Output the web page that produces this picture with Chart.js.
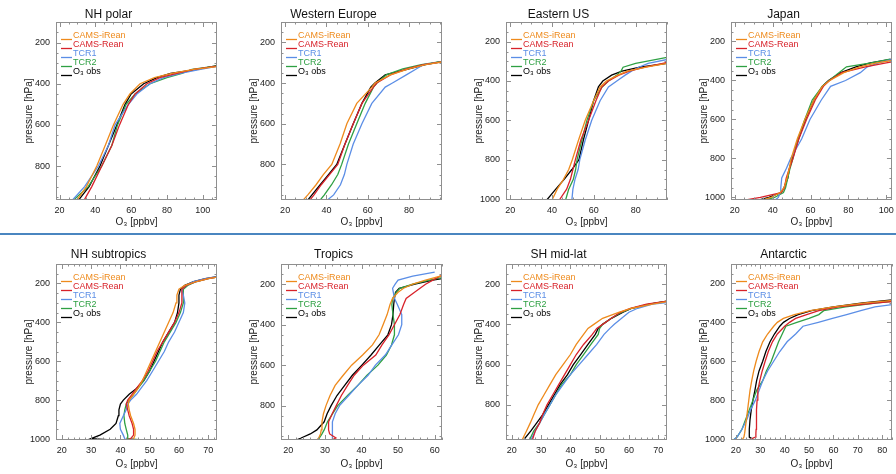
<!DOCTYPE html>
<html>
<head>
<meta charset="utf-8">
<script src="https://cdn.jsdelivr.net/npm/chart.js@4.4.0/dist/chart.umd.min.js"></script>
<style>
  body { margin: 0; background: #fff; width: 896px; height: 474px; overflow: hidden; position: relative; }
  canvas { position: absolute; }
  #sep { position: absolute; left: 0; top: 233px; width: 896px; height: 2px; background: #4a86c0; }
</style>
</head>
<body>
<div id="sep"></div>
<script>
const seriesNames = ['CAMS-iRean', 'CAMS-Rean', 'TCR1', 'TCR2', 'O\u2083 obs'];

// NH polar
const nhPolarP     = [1000, 900, 800, 700, 600, 500, 450, 400, 370, 350, 330, 300];
const nhPolarIRean = [27, 35, 40.8, 45.5, 50.1, 55.5, 59.3, 65, 73, 82.7, 95, 125];
const nhPolarRean  = [31.5, 38, 43.6, 49.2, 53.5, 58.5, 62.2, 68.8, 76, 85.6, 95, 120];
const nhPolarTcr1  = [23.5, 34, 41.7, 47.3, 51, 58.5, 63.2, 70.6, 78, 87.5, 98.7, 118];
const nhPolarTcr2  = [23.5, 36, 43.6, 49.2, 52.4, 57.2, 62.2, 70.6, 80, 88.4, 94, 120];
const nhPolarObs   = [27.5, 36.5, 42.6, 47.3, 52, 56.6, 60, 67, 74.4, 82, 97, 115];

// Western Europe
const wEuropeP     = [1000, 950, 900, 850, 800, 700, 600, 500, 420, 400, 360, 330, 310, 290];
const wEuropeIRean = [26.5, 31, 35, 38.5, 42.6, 46.6, 49.9, 54.7, 62, 63.6, 71, 79.8, 88, 100];
const wEuropeRean  = [30, 34, 37.5, 41.5, 45.5, 49, 53, 57.2, 62.8, 64.4, 71, 79, 87, 100];
const wEuropeTcr1  = [37.5, 43.5, 46.8, 48.7, 49.9, 53, 57.2, 62, 68.5, 72, 78.7, 83.7, 87, 100];
const wEuropeTcr2  = [35, 39, 42.5, 45.5, 47.4, 50.7, 54.7, 58.8, 62.8, 64.5, 69, 77, 86, 98];
const wEuropeObs   = [29, 33, 37, 41, 45, 49, 53, 57.2, 61.5, 63.5, 68.5, 80, 88, 98];

// Eastern US
const eUsP     = [1005, 950, 900, 850, 800, 700, 600, 500, 430, 400, 370, 350, 330, 310, 280];
const eUsIRean = [40, 42.5, 45.5, 48, 49.7, 52.7, 55.9, 59.9, 63, 66, 71.5, 76, 85, 95, 110];
const eUsRean  = [43.5, 47, 48.8, 50, 51.2, 53.8, 57.5, 61, 63.8, 67, 72, 77, 84.5, 93, 108];
const eUsTcr1  = [49.5, 50, 51, 52.5, 53.3, 55.9, 59, 63, 67, 71, 75, 78, 81.5, 86, 100];
const eUsTcr2  = [46.5, 48, 50.2, 51.3, 52, 54.3, 56.7, 59.9, 64, 67, 71, 73, 74, 80, 95];
const eUsObs   = [37.5, 41.8, 45.8, 49.5, 52.9, 55, 57.5, 59.9, 62.2, 64.3, 68.5, 73.5, 82, 95, 110];

// Japan
const japanP     = [1012, 1000, 975, 950, 900, 850, 800, 700, 600, 500, 430, 400, 360, 330, 310, 290];
const japanIRean = [35, 39, 44, 46, 47.6, 48.8, 49.8, 53, 57, 61.8, 66.2, 70.2, 77.6, 86, 95, 108];
const japanRean  = [26, 33.5, 44.5, 46.2, 47.2, 48.9, 50.7, 53.8, 57.9, 62.5, 66.8, 70, 76.5, 89, 100, 112];
const japanTcr1  = [41.5, 43, 44, 44.3, 44.8, 47.3, 49.5, 55.3, 59.7, 65.7, 70.6, 78.5, 86.3, 90, 96, 104];
const japanTcr2  = [36.4, 41, 45.7, 46.8, 48, 49.2, 50.7, 53.4, 57, 60.9, 66.2, 69.8, 75, 79, 92, 102];
const japanObs   = [32.9, 38, 44.5, 46, 48, 48.9, 50.4, 53.7, 57.3, 61.8, 66.2, 69.5, 76, 84, 91.6, 103];

// NH subtropics
const nhSubP     = [1008, 998, 980, 950, 920, 880, 850, 820, 800, 770, 740, 700, 650, 600, 550, 500, 450, 400, 350, 300, 260, 230, 210, 190, 175, 160, 150];
const nhSubIRean = [44.5, 44.5, 45, 45, 44.5, 43.5, 43, 42.7, 43, 44.5, 46, 47.5, 49, 50.5, 52, 53.5, 55, 56.5, 58, 59, 59.3, 60, 62, 66, 70, 76, 82];
const nhSubRean  = [41.5, 43.5, 44.5, 44.5, 44, 43, 42.5, 42, 42.5, 44, 45.5, 47.5, 49.5, 51, 52.5, 54.5, 56.5, 58.5, 60, 61, 61, 61, 62.5, 66, 70, 76, 82];
const nhSubTcr1  = [42, 41.5, 41, 40, 39.8, 41, 42, 42.5, 43.5, 45.5, 47, 49, 51, 53, 55, 56.5, 58.5, 60, 61.5, 62, 61.5, 61, 62.5, 65, 69, 75, 81];
const nhSubTcr2  = [50, 42.5, 42.5, 42, 41.5, 41.2, 41.5, 42, 43, 44.5, 46, 48, 50, 52, 53.5, 55, 57, 59, 60.5, 61.5, 61.5, 61.5, 63, 66, 70, 76, 82];
const nhSubObs   = [41, 30, 33, 36.5, 38.5, 39.3, 39.5, 40, 41, 43, 45.5, 48, 50, 51.5, 53, 54.5, 56.5, 58.5, 59.5, 60, 60, 60.5, 62, 65, 69, 75, 80];

// Tropics
const tropicsP     = [975, 960, 940, 920, 880, 840, 800, 750, 700, 650, 600, 550, 500, 450, 400, 350, 300, 270, 240, 220, 200, 180, 160, 140];
const tropicsIRean = [27.5, 28.3, 28.8, 29, 29.2, 29.6, 30.3, 31.4, 32.8, 35, 37.3, 40.3, 43, 44.8, 45.9, 47, 47.8, 48.5, 50, 51.5, 54, 57.5, 61.5, 66];
const tropicsRean  = [31.3, 33, 31.3, 31, 31, 32, 33.1, 34.5, 36.2, 38, 40.5, 43.9, 45.6, 47.5, 49, 50.5, 51.5, 52.2, 54.5, 56, 57.5, 59.5, 61.5, 65];
const tropicsTcr1  = [32, 32, 32, 32, 32.2, 32.8, 34, 36.5, 39, 41.8, 43.8, 46.5, 48.3, 50.1, 51, 51, 49.8, 49, 48.7, 48.5, 49.2, 50, 54, 60];
const tropicsTcr2  = [28, 28.5, 29.2, 29.8, 30.7, 32.1, 33.5, 36.2, 39, 41.5, 44.5, 46.8, 48.2, 49, 49, 48.6, 48.3, 48.5, 49.5, 50.5, 54, 58.5, 64, 70];
const tropicsObs   = [21.5, 23.5, 26, 27.8, 29.8, 30.6, 31.7, 33.3, 35.4, 37.5, 40.1, 42.6, 44.9, 47.2, 48.2, 48.6, 48.8, 49, 49.3, 50.3, 54.6, 59.5, 66, 72];

// SH mid-lat
const shMidP     = [975, 930, 890, 850, 800, 750, 700, 650, 600, 550, 500, 450, 420, 400, 370, 340, 320, 300, 280];
const shMidIRean = [23.5, 25, 26.3, 27.5, 29, 31, 33, 35, 37.5, 40, 42, 44.5, 46, 48, 51, 56.5, 61, 68, 76];
const shMidRean  = [27, 28, 29.5, 30.5, 32, 34, 36, 38, 40, 42, 44.5, 47.5, 49, 51, 54, 57, 60.5, 66, 75];
const shMidTcr1  = [26.5, 28, 29.5, 31, 33, 35, 37.5, 40, 43, 46, 49, 51.5, 53.5, 55, 57.5, 60, 63, 68, 80];
const shMidTcr2  = [26, 27.5, 29.5, 31, 33, 35, 37, 40, 42, 44.5, 47, 49.5, 50, 51, 54, 57.5, 61, 67, 75];
const shMidObs   = [24, 26.5, 28.5, 30.5, 32.5, 34.5, 36.5, 39, 41, 43.5, 46, 48.5, 49.5, 51, 54, 58, 61, 67, 75];

// Antarctic
const antP     = [1005, 990, 970, 950, 900, 850, 800, 750, 700, 650, 600, 550, 500, 460, 420, 400, 380, 360, 340, 320, 300, 280];
const antIRean = [22.5, 23.3, 23.6, 23.8, 24.3, 24.8, 25.3, 25.8, 26.5, 27.3, 28.3, 29.5, 31, 33, 35.5, 37, 39.5, 44, 50.5, 60, 73, 90];
const antRean  = [25, 28, 28.2, 28.3, 28.4, 28.5, 28.7, 29, 29.8, 30.8, 32, 33.3, 35, 37, 40, 42, 44.5, 49, 54, 62, 78, 95];
const antTcr1  = [19, 20.5, 21.5, 22.5, 24.5, 26, 28, 29.5, 31, 33, 35.5, 38, 41, 44.5, 47.5, 53.8, 59.6, 65.4, 71.2, 77, 90, 100];
const antTcr2  = [19, 20.5, 21.5, 22.5, 24, 25.5, 27, 28.5, 31, 32.5, 34.5, 36, 37.5, 39, 40.5, 45, 50, 54, 56, 65, 78, 92];
const antObs   = [27.5, 25.5, 25.5, 25.5, 25.8, 26.3, 27, 27.8, 28.5, 29.5, 31, 32.3, 34, 35.8, 38, 39.5, 42, 45.5, 51, 60, 72, 88];

// tick labels
const yTicks800  = [200, 400, 600, 800];
const yTicks1000 = [200, 400, 600, 800, 1000];
const xTicks20to100 = [20, 40, 60, 80, 100];
const xTicks20to80  = [20, 40, 60, 80];
const xTicks10to70  = [20, 30, 40, 50, 60, 70];
const xTicks10to60  = [20, 30, 40, 50, 60];
const xTicks10to80  = [20, 30, 40, 50, 60, 70, 80];

const colors = ['#ee8a1c', '#d8222a', '#5b8ee6', '#2ea043', '#000000'];
const font = 'Liberation Sans, Arial, Helvetica, sans-serif';

const panels = [
  { title: 'NH polar', p: nhPolarP, o3: [nhPolarIRean, nhPolarRean, nhPolarTcr1, nhPolarTcr2, nhPolarObs], x: [18, 108], y: [100, 965], xt: xTicks20to100, yt: yTicks800, minor: 5 },
  { title: 'Western Europe', p: wEuropeP, o3: [wEuropeIRean, wEuropeRean, wEuropeTcr1, wEuropeTcr2, wEuropeObs], x: [18, 96], y: [100, 975], xt: xTicks20to80, yt: yTicks800, minor: 5 },
  { title: 'Eastern US', p: eUsP, o3: [eUsIRean, eUsRean, eUsTcr1, eUsTcr2, eUsObs], x: [18, 95], y: [100, 1005], xt: xTicks20to80, yt: yTicks1000, minor: 5 },
  { title: 'Japan', p: japanP, o3: [japanIRean, japanRean, japanTcr1, japanTcr2, japanObs], x: [18, 103], y: [100, 1013], xt: xTicks20to100, yt: yTicks1000, minor: 5 },
  { title: 'NH subtropics', p: nhSubP, o3: [nhSubIRean, nhSubRean, nhSubTcr1, nhSubTcr2, nhSubObs], x: [18, 73], y: [100, 1005], xt: xTicks10to70, yt: yTicks1000, minor: 2 },
  { title: 'Tropics', p: tropicsP, o3: [tropicsIRean, tropicsRean, tropicsTcr1, tropicsTcr2, tropicsObs], x: [18, 62], y: [100, 970], xt: xTicks10to60, yt: yTicks800, minor: 2 },
  { title: 'SH mid-lat', p: shMidP, o3: [shMidIRean, shMidRean, shMidTcr1, shMidTcr2, shMidObs], x: [18, 73], y: [100, 975], xt: xTicks10to70, yt: yTicks800, minor: 2 },
  { title: 'Antarctic', p: antP, o3: [antIRean, antRean, antTcr1, antTcr2, antObs], x: [18, 84], y: [100, 1005], xt: xTicks10to80, yt: yTicks1000, minor: 2 },
];

// IDL-style box with inward ticks on all four sides, plus the coloured legend
const idlFrame = {
  id: 'idlFrame',
  afterDraw(chart, args, opts) {
    const { ctx, chartArea: a, scales: { x, y } } = chart;
    ctx.save();
    ctx.strokeStyle = '#8f8f8f';
    ctx.lineWidth = 1;
    ctx.strokeRect(Math.round(a.left) + 0.5, Math.round(a.top) + 0.5, Math.round(a.width) - 1, Math.round(a.height) - 1);
    ctx.beginPath();
    const xs = opts.minor;
    for (let i = Math.ceil(x.min / xs); i * xs <= x.max; i++) {
      const v = i * xs;
      const px = Math.round(x.getPixelForValue(v)) + 0.5;
      const len = opts.xt.includes(v) ? 5 : 2.5;
      ctx.moveTo(px, a.bottom); ctx.lineTo(px, a.bottom - len);
      ctx.moveTo(px, a.top); ctx.lineTo(px, a.top + len);
    }
    for (let i = Math.ceil(y.min / 50); i * 50 <= y.max; i++) {
      const v = i * 50;
      const py = Math.round(y.getPixelForValue(v)) + 0.5;
      const len = v % 200 === 0 ? 5 : 2.5;
      ctx.moveTo(a.left, py); ctx.lineTo(a.left + len, py);
      ctx.moveTo(a.right, py); ctx.lineTo(a.right - len, py);
    }
    ctx.stroke();

    ctx.font = '9px ' + font;
    ctx.textBaseline = 'middle';
    chart.data.datasets.forEach((ds, i) => {
      const ty = a.top + 13.5 + i * 9;
      ctx.strokeStyle = ds.borderColor;
      ctx.lineWidth = 1.3;
      ctx.beginPath();
      ctx.moveTo(a.left + 5, ty + 4);
      ctx.lineTo(a.left + 16, ty + 4);
      ctx.stroke();
      ctx.fillStyle = ds.borderColor;
      ctx.fillText(ds.label, a.left + 17, ty);
    });
    ctx.restore();
  }
};

panels.forEach((pn, k) => {
  const col = k % 4, row = Math.floor(k / 4);
  const cv = document.createElement('canvas');
  const h = row === 0 ? 230 : 236;
  cv.width = 224; cv.height = h;
  cv.style.left = (225 * col) + 'px';
  cv.style.top = (row === 0 ? 0 : 238) + 'px';
  cv.style.width = '224px'; cv.style.height = h + 'px';
  document.body.appendChild(cv);

  const datasets = pn.o3.map((vals, i) => ({
    label: seriesNames[i],
    data: vals.map((v, j) => ({ x: v, y: pn.p[j] })),
    borderColor: colors[i],
    borderWidth: 1.3,
    pointRadius: 0,
    showLine: true,
    fill: false,
    tension: 0
  }));

  new Chart(cv, {
    type: 'scatter',
    data: { datasets },
    options: {
      responsive: false,
      animation: false,
      devicePixelRatio: 1,
      layout: { padding: { left: 0, right: 7, top: 0, bottom: 0 } },
      plugins: {
        legend: { display: false },
        tooltip: { enabled: false },
        title: {
          display: true, text: pn.title, color: '#111',
          font: { family: font, size: 12, weight: 'normal', lineHeight: 1.2 },
          padding: row === 0 ? { top: 7, bottom: 0.6 } : { top: 9.8, bottom: 1.8 }
        },
        idlFrame: { xt: pn.xt, minor: pn.minor }
      },
      scales: {
        x: {
          type: 'linear', min: pn.x[0], max: pn.x[1],
          grid: { display: false, drawTicks: false }, border: { display: false },
          ticks: { color: '#222', padding: 5, font: { family: font, size: 9 }, maxRotation: 0, callback: v => String(v) },
          afterBuildTicks: s => { s.ticks = pn.xt.map(v => ({ value: v })); },
          afterFit: s => { s.height = row === 0 ? 30 : 34; },
          title: {
            display: true, text: 'O\u2083 [ppbv]', color: '#222',
            font: { family: font, size: 10 }, padding: { top: 0, bottom: row === 0 ? 2 : 4 }
          }
        },
        y: {
          type: 'linear', reverse: true, min: pn.y[0], max: pn.y[1],
          grid: { display: false, drawTicks: false }, border: { display: false },
          ticks: { color: '#222', padding: 6, font: { family: font, size: 9 }, callback: v => String(v) },
          afterBuildTicks: s => { s.ticks = pn.yt.map(v => ({ value: v })); },
          afterFit: s => { s.width = 56; },
          title: {
            display: true, text: 'pressure [hPa]', color: '#222',
            font: { family: font, size: 10 }, padding: { top: 23, bottom: 0 }
          }
        }
      }
    },
    plugins: [idlFrame]
  });
});
</script>
</body>
</html>
